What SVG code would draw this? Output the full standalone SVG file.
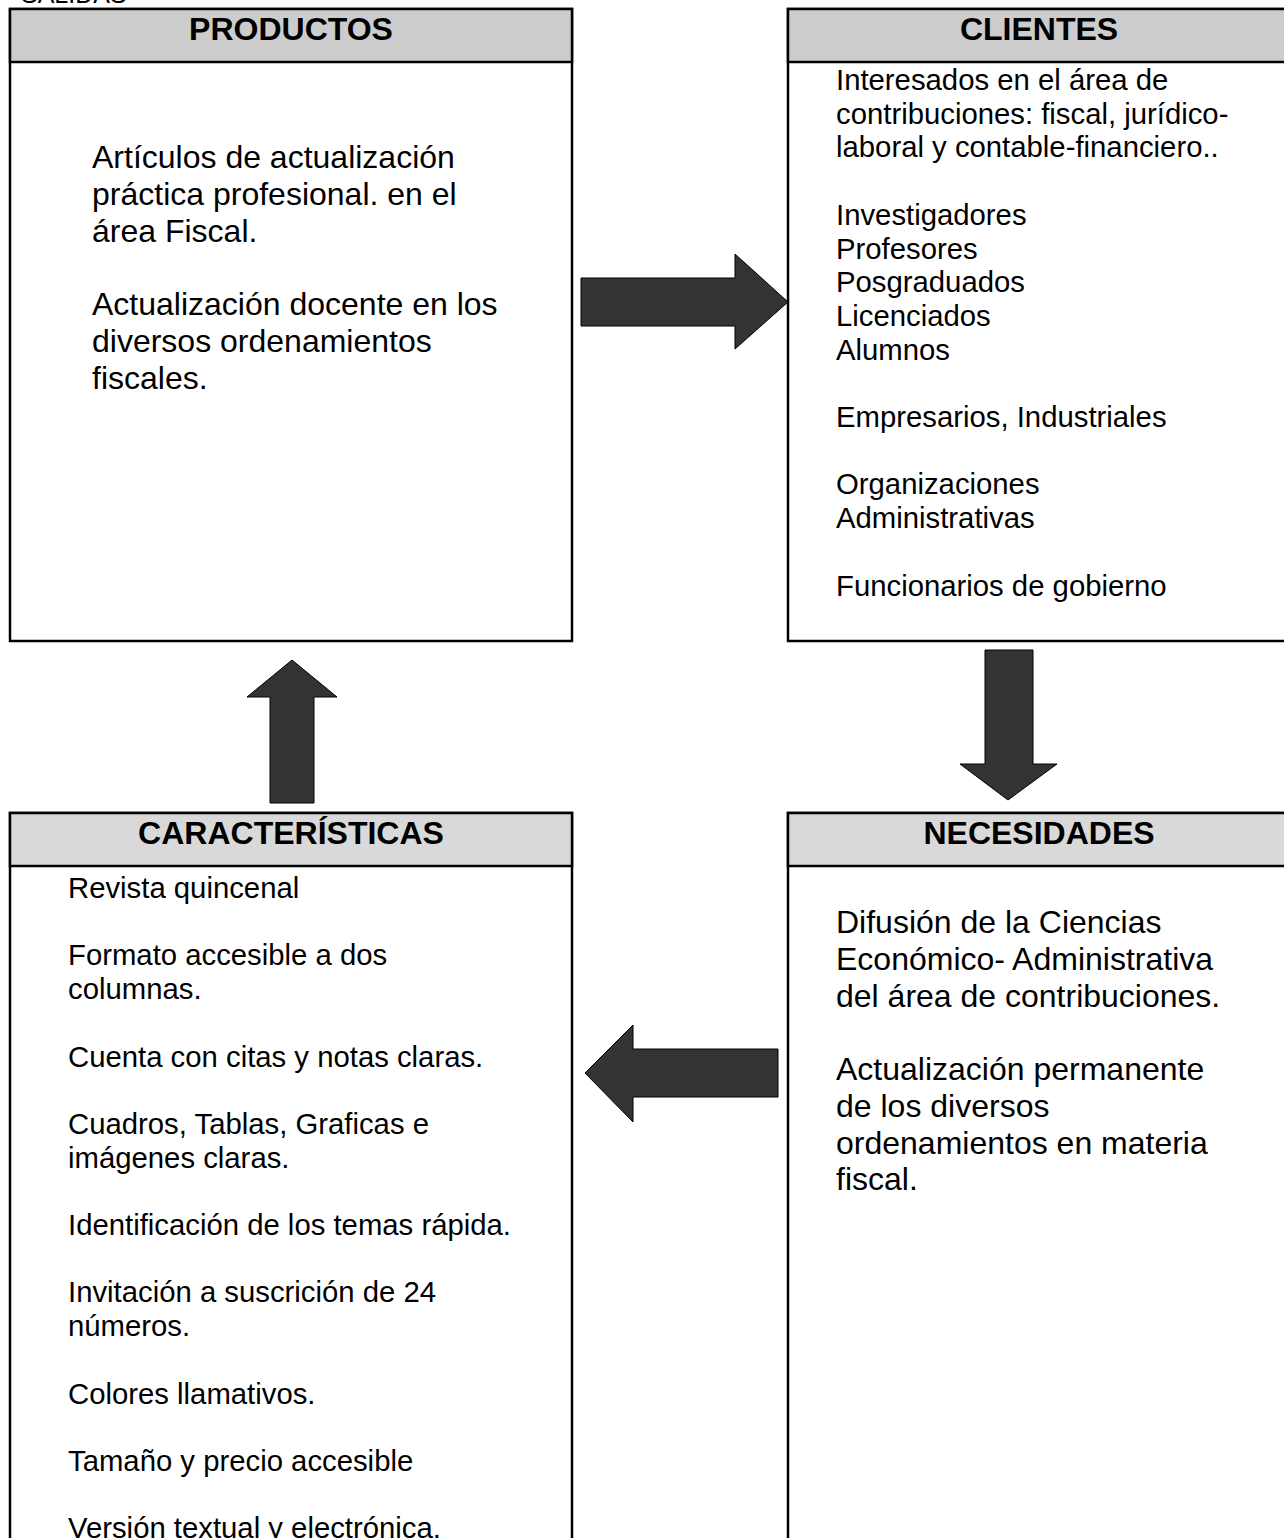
<svg xmlns="http://www.w3.org/2000/svg" width="1284" height="1538" viewBox="0 0 1284 1538">
<style>
text{font-family:"Liberation Sans",Arial,sans-serif;fill:#000}
.box{fill:#fff;stroke:#000;stroke-width:2.5}
.hd1{fill:#cccccc;stroke:#000;stroke-width:2.5}
.hd2{fill:#d9d9d9;stroke:#000;stroke-width:2.5}
.ttl{font-weight:bold;font-size:32px;text-anchor:middle}
.big{font-size:32px}
.med{font-size:29.3px}
.arr{fill:#333;stroke:#000;stroke-width:1}
</style>
<rect width="1284" height="1538" fill="#fff"/>
<text x="21" y="3" style="font-size:25px">SALIDAS</text>

<g id="productos">
<rect class="box" x="10" y="9" width="562" height="632"/>
<rect class="hd1" x="10" y="9" width="562" height="53"/>
<text class="ttl" x="291" y="40">PRODUCTOS</text>
<text class="big" x="92" y="168">Artículos de actualización</text>
<text class="big" x="92" y="204.8">práctica profesional. en el</text>
<text class="big" x="92" y="241.6">área Fiscal.</text>
<text class="big" x="92" y="315">Actualización docente en los</text>
<text class="big" x="92" y="351.8">diversos ordenamientos</text>
<text class="big" x="92" y="388.6">fiscales.</text>
</g>

<g id="clientes">
<rect class="box" x="788" y="9" width="510" height="632"/>
<rect class="hd1" x="788" y="9" width="510" height="53"/>
<text class="ttl" x="1039" y="40">CLIENTES</text>
<text class="med" x="836" y="90">Interesados en el área de</text>
<text class="med" x="836" y="123.7">contribuciones: fiscal, jurídico-</text>
<text class="med" x="836" y="157.4">laboral y contable-financiero..</text>
<text class="med" x="836" y="224.8">Investigadores</text>
<text class="med" x="836" y="258.5">Profesores</text>
<text class="med" x="836" y="292.2">Posgraduados</text>
<text class="med" x="836" y="325.9">Licenciados</text>
<text class="med" x="836" y="359.6">Alumnos</text>
<text class="med" x="836" y="427">Empresarios, Industriales</text>
<text class="med" x="836" y="494.4">Organizaciones</text>
<text class="med" x="836" y="528.1">Administrativas</text>
<text class="med" x="836" y="595.5">Funcionarios de gobierno</text>
</g>

<g id="caracteristicas">
<rect class="box" x="10" y="813" width="562" height="760"/>
<rect class="hd2" x="10" y="813" width="562" height="53"/>
<text class="ttl" x="291" y="844">CARACTERÍSTICAS</text>
<text class="med" x="68" y="898">Revista quincenal</text>
<text class="med" x="68" y="965.4">Formato accesible a dos</text>
<text class="med" x="68" y="999.1">columnas.</text>
<text class="med" x="68" y="1066.5">Cuenta con citas y notas claras.</text>
<text class="med" x="68" y="1133.9">Cuadros, Tablas, Graficas e</text>
<text class="med" x="68" y="1167.6">imágenes claras.</text>
<text class="med" x="68" y="1235">Identificación de los temas rápida.</text>
<text class="med" x="68" y="1302.4">Invitación a suscrición de 24</text>
<text class="med" x="68" y="1336.1">números.</text>
<text class="med" x="68" y="1403.5">Colores llamativos.</text>
<text class="med" x="68" y="1470.9">Tamaño y precio accesible</text>
<text class="med" x="68" y="1538.3">Versión textual y electrónica.</text>
</g>

<g id="necesidades">
<rect class="box" x="788" y="813" width="510" height="760"/>
<rect class="hd2" x="788" y="813" width="510" height="53"/>
<text class="ttl" x="1039" y="844">NECESIDADES</text>
<text class="big" x="836" y="933">Difusión de la Ciencias</text>
<text class="big" x="836" y="969.8">Económico- Administrativa</text>
<text class="big" x="836" y="1006.6">del área de contribuciones.</text>
<text class="big" x="836" y="1080">Actualización permanente</text>
<text class="big" x="836" y="1116.8">de los diversos</text>
<text class="big" x="836" y="1153.6">ordenamientos en materia</text>
<text class="big" x="836" y="1190.4">fiscal.</text>
</g>

<g id="connectors">
<polygon class="arr" points="581,278 735,278 735,254 788,302 735,349 735,326 581,326"/>
<polygon class="arr" points="985,650 1033,650 1033,764 1057,764 1008,800 960,764 985,764"/>
<polygon class="arr" points="778,1049 633,1049 633,1025 585,1073 633,1122 633,1097 778,1097"/>
<polygon class="arr" points="270,803 270,697 247,697 292,660 337,697 314,697 314,803"/>
</g>
</svg>
